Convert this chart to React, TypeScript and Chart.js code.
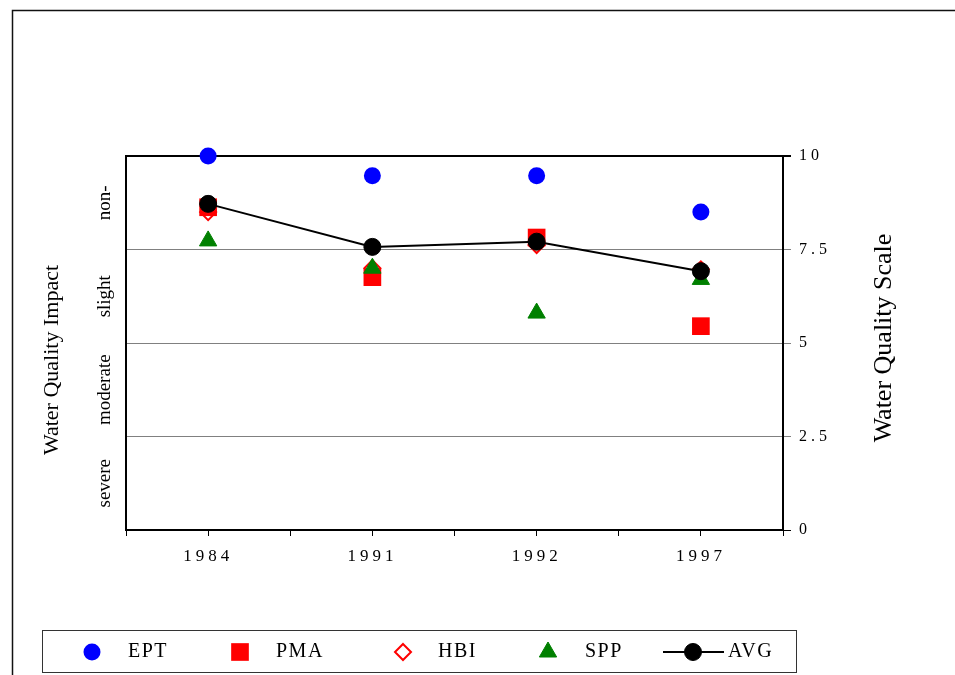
import React, { useEffect, useRef } from 'react';
import { Chart, registerables } from 'chart.js';

Chart.register(...registerables);

// ---- data ----
const years = ['1984', '1991', '1992', '1997'];
const eptValues = [10, 9.47, 9.47, 8.5];
const pmaValues = [8.63, 6.76, 7.82, 5.45];
const hbiValues = [8.5, 7.0, 7.62, 6.97];
const sppValues = [7.73, 7.0, 5.8, 6.7];
const avgValues = [8.72, 7.57, 7.71, 6.92];
const scaleTicks = [0, 2.5, 5, 7.5, 10];
const impactLabels = ['severe', 'moderate', 'slight', 'non-'];
const impactCenters = [1.25, 3.75, 6.25, 8.75];
const seriesNames = ['EPT', 'PMA', 'HBI', 'SPP', 'AVG'];
const leftTitle = 'Water Quality Impact';
const rightTitle = 'Water Quality Scale';

const SERIF = '"Liberation Serif", "Times New Roman", serif';

const toXY = (arr: number[]) => arr.map((v, i) => ({ x: i + 0.5, y: v }));

function drawMarker(ctx: CanvasRenderingContext2D, style: string, x: number, y: number, r: number, fill: string, stroke: string, lw: number) {
  ctx.save();
  ctx.beginPath();
  if (style === 'circle') {
    ctx.arc(x, y, r, 0, Math.PI * 2);
  } else if (style === 'rect') {
    const s = Math.SQRT1_2 * r;
    ctx.rect(x - s, y - s, 2 * s, 2 * s);
  } else if (style === 'rectRot') {
    ctx.moveTo(x, y - r);
    ctx.lineTo(x + r, y);
    ctx.lineTo(x, y + r);
    ctx.lineTo(x - r, y);
    ctx.closePath();
  } else if (style === 'triangle') {
    const a0 = -Math.PI / 2;
    for (let k = 0; k < 3; k++) {
      const a = a0 + (k * 2 * Math.PI) / 3;
      const px = x + Math.cos(a) * r;
      const py = y + Math.sin(a) * r;
      if (k === 0) ctx.moveTo(px, py); else ctx.lineTo(px, py);
    }
    ctx.closePath();
  }
  ctx.fillStyle = fill;
  ctx.fill();
  if (lw > 0) {
    ctx.strokeStyle = stroke;
    ctx.lineWidth = lw;
    ctx.stroke();
  }
  ctx.restore();
}

function vText(ctx: CanvasRenderingContext2D, text: string, x: number, y: number, font: string) {
  ctx.save();
  ctx.translate(x, y);
  ctx.rotate(-Math.PI / 2);
  ctx.font = font;
  ctx.textAlign = 'center';
  ctx.textBaseline = 'middle';
  ctx.fillStyle = '#000';
  ctx.fillText(text, 0, 0);
  ctx.restore();
}

const decorPlugin = {
  id: 'decor',
  beforeDraw(chart: any) {
    const ctx = chart.ctx as CanvasRenderingContext2D;
    ctx.save();
    ctx.fillStyle = '#fff';
    ctx.fillRect(0, 0, chart.width, chart.height);
    ctx.strokeStyle = '#111';
    ctx.lineWidth = 1.5;
    ctx.strokeRect(12.5, 10.5, 2000, 2000);
    ctx.restore();
    (ctx as any).letterSpacing = '4px';
  },
  afterDraw(chart: any) {
    const ctx = chart.ctx as CanvasRenderingContext2D;
    (ctx as any).letterSpacing = '0px';
    const yl = chart.scales.yl;
    // left axis title and bands
    vText(ctx, leftTitle, 52, 360, `22px ${SERIF}`);
    impactLabels.forEach((lab, i) => {
      vText(ctx, lab, 105, yl.getPixelForValue(impactCenters[i]), `19px ${SERIF}`);
    });
    // right title
    vText(ctx, rightTitle, 884, 338, `26px ${SERIF}`);

    // legend
    ctx.save();
    ctx.strokeStyle = '#333';
    ctx.lineWidth = 1;
    ctx.strokeRect(42.5, 630.5, 754, 42);
    ctx.restore();
    const ly = 652;
    const markerX = [92, 240, 403, 548, 693];
    const textX = [128, 276, 438, 585, 728];
    const ds = chart.data.datasets;
    const byName: any = {};
    ds.forEach((d: any) => { byName[d.label] = d; });
    seriesNames.forEach((name, i) => {
      const d = byName[name];
      if (name === 'AVG') {
        ctx.save();
        ctx.strokeStyle = d.borderColor;
        ctx.lineWidth = 2;
        ctx.beginPath();
        ctx.moveTo(663, ly);
        ctx.lineTo(724, ly);
        ctx.stroke();
        ctx.restore();
      }
      drawMarker(ctx, d.pointStyle, markerX[i], ly, name === 'PMA' ? 12.5 : name === 'HBI' ? 8 : name === 'SPP' ? 10 : 8.5,
        d.pointBackgroundColor, d.pointBorderColor, d.pointBorderWidth);
      ctx.save();
      (ctx as any).letterSpacing = '1.5px';
      ctx.font = `20px ${SERIF}`;
      ctx.fillStyle = '#000';
      ctx.textAlign = 'left';
      ctx.textBaseline = 'middle';
      ctx.fillText(name, textX[i], ly);
      ctx.restore();
    });
  },
};

export default function App() {
  const ref = useRef<HTMLCanvasElement | null>(null);

  useEffect(() => {
    if (!ref.current) return;
    const chart = new Chart(ref.current, {
      type: 'line',
      data: {
        datasets: [
          {
            label: 'AVG', data: toXY(avgValues), order: 0, yAxisID: 'y', xAxisID: 'x',
            showLine: true, borderColor: '#000', borderWidth: 2,
            pointStyle: 'circle', pointRadius: 8.5, pointBackgroundColor: '#000', pointBorderColor: '#000', pointBorderWidth: 1,
            clip: false,
          },
          {
            label: 'SPP', data: toXY(sppValues), order: 1, yAxisID: 'y', xAxisID: 'x',
            showLine: false, borderColor: '#008000',
            pointStyle: 'triangle', pointRadius: 10, pointBackgroundColor: '#008000', pointBorderColor: '#008000', pointBorderWidth: 1,
            clip: false,
          },
          {
            label: 'PMA', data: toXY(pmaValues), order: 2, yAxisID: 'y', xAxisID: 'x',
            showLine: false, borderColor: '#ff0000',
            pointStyle: 'rect', pointRadius: 12.5, pointBackgroundColor: '#ff0000', pointBorderColor: '#ff0000', pointBorderWidth: 0,
            clip: false,
          },
          {
            label: 'HBI', data: toXY(hbiValues), order: 3, yAxisID: 'y', xAxisID: 'x',
            showLine: false, borderColor: '#ff0000',
            pointStyle: 'rectRot', pointRadius: 8, pointBackgroundColor: '#ffffff', pointBorderColor: '#ff0000', pointBorderWidth: 2,
            clip: false,
          },
          {
            label: 'EPT', data: toXY(eptValues), order: 4, yAxisID: 'y', xAxisID: 'x',
            showLine: false, borderColor: '#0000ff',
            pointStyle: 'circle', pointRadius: 8.5, pointBackgroundColor: '#0000ff', pointBorderColor: '#0000ff', pointBorderWidth: 0,
            clip: false,
          },
        ] as any,
      },
      options: {
        responsive: false,
        animation: false,
        events: [],
        layout: { padding: { top: 156, left: 0, right: 0, bottom: 0 } },
        plugins: { legend: { display: false }, tooltip: { enabled: false } },
        scales: {
          x: {
            type: 'linear', position: 'bottom', min: 0, max: years.length,
            ticks: {
              stepSize: 0.5, autoSkip: false, maxRotation: 0, minRotation: 0, color: '#000',
              font: { family: SERIF, size: 17 }, padding: 10,
              callback: (v: any) => (Math.abs((v % 1) - 0.5) < 1e-6 ? years[Math.floor(v)] : ''),
            },
            grid: { drawOnChartArea: false, drawTicks: true, tickLength: 6, color: '#000', lineWidth: 1 },
            border: { display: true, color: '#000', width: 2 },
            afterFit: (s: any) => { s.height = 145; },
          },
          yl: {
            type: 'linear', position: 'left', min: 0, max: 10,
            ticks: { display: false },
            grid: { display: false, drawTicks: false },
            border: { display: true, color: '#000', width: 2 },
            afterFit: (s: any) => { s.width = 126; },
          },
          y: {
            type: 'linear', position: 'right', min: 0, max: 10,
            afterBuildTicks: (s: any) => { s.ticks = scaleTicks.map((v) => ({ value: v })); },
            ticks: { color: '#000', font: { family: SERIF, size: 16 }, padding: 8, callback: (v: any) => String(v) },
            grid: {
              color: (c: any) => (c.tick && (c.tick.value === 10 || c.tick.value === 0) ? '#000' : '#808080'),
              lineWidth: (c: any) => (c.tick && c.tick.value === 10 ? 2 : 1),
              tickLength: 8, drawTicks: true,
            },
            border: { display: true, color: '#000', width: 2 },
            afterFit: (s: any) => { s.width = 172; },
          },
        },
      } as any,
      plugins: [decorPlugin],
    });
    return () => chart.destroy();
  }, []);

  return (
    <div style={{ position: 'absolute', left: 0, top: 0, width: 955, height: 675, overflow: 'hidden' }}>
      <canvas ref={ref} width={955} height={675} style={{ display: 'block' }} />
    </div>
  );
}
